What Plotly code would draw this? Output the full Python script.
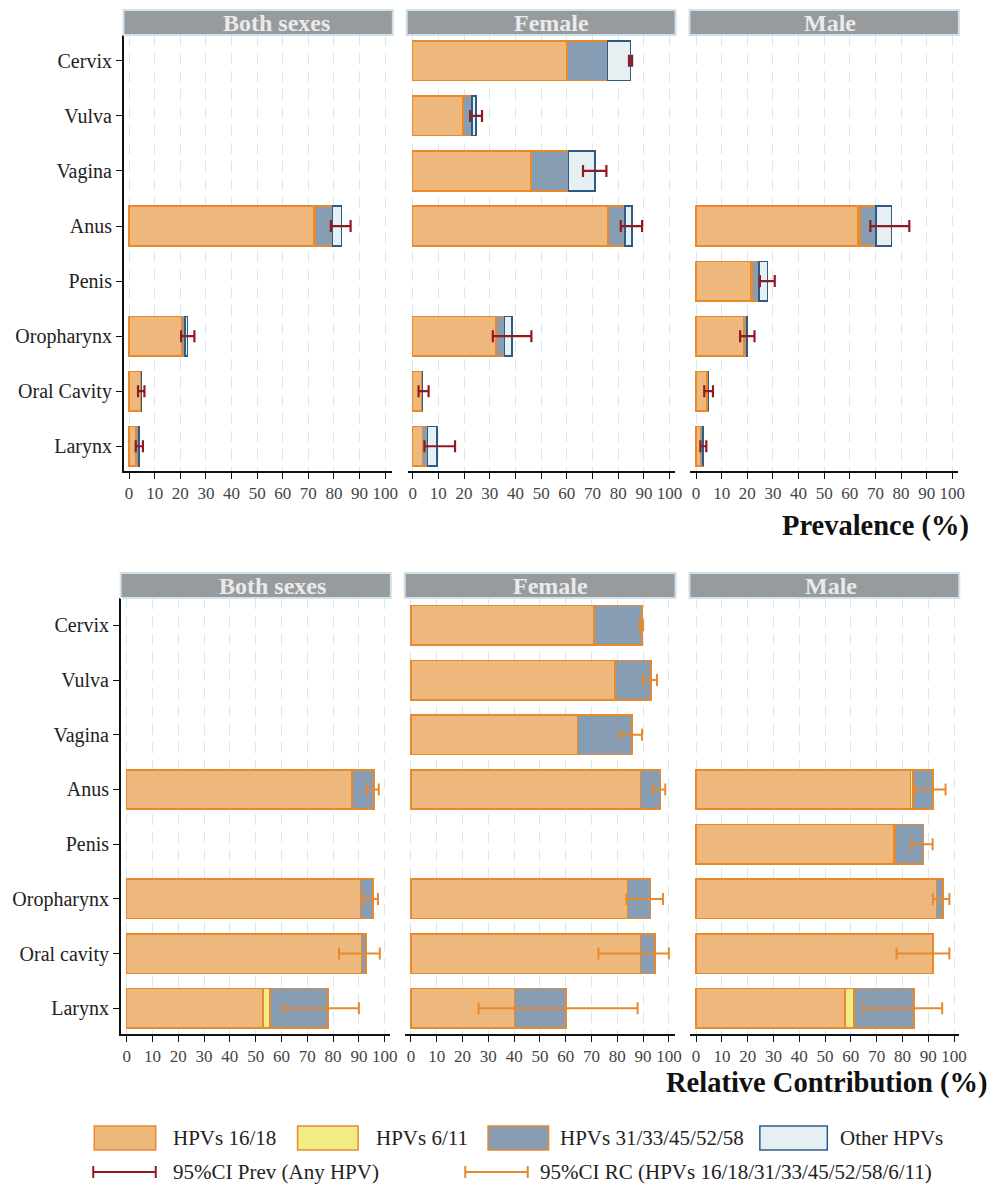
import plotly.graph_objects as go

# ---------------- data ----------------
sites_prev = ["Cervix", "Vulva", "Vagina", "Anus", "Penis", "Oropharynx", "Oral Cavity", "Larynx"]
sites_rc = ["Cervix", "Vulva", "Vagina", "Anus", "Penis", "Oropharynx", "Oral cavity", "Larynx"]
sexes = ["Both sexes", "Female", "Male"]

# Prevalence (%) segment sizes: HPV16/18, HPV6/11, HPV31/33/45/52/58, Other HPVs
prev_both_1618 = [None, None, None, 72.3, None, 20.6, 4.5, 2.5]
prev_both_611 = [None, None, None, 0.3, None, 0.2, 0.0, 0.3]
prev_both_hr = [None, None, None, 6.8, None, 1.1, 0.3, 0.9]
prev_both_oth = [None, None, None, 3.6, None, 0.9, 0.1, 0.1]
prev_both_ci_lo = [None, None, None, 78.8, None, 20.3, 3.5, 2.6]
prev_both_ci_hi = [None, None, None, 86.5, None, 25.5, 6.0, 5.4]

prev_fem_1618 = [60.1, 19.6, 45.8, 75.8, None, 32.5, 3.5, 3.9]
prev_fem_611 = [0.2, 0.2, 0.3, 0.2, None, 0.2, 0.0, 0.0]
prev_fem_hr = [15.5, 3.2, 14.6, 6.6, None, 3.0, 0.4, 1.8]
prev_fem_oth = [8.9, 1.7, 10.3, 2.8, None, 3.0, 0.0, 3.7]
prev_fem_ci_lo = [84.2, 22.4, 66.3, 81.0, None, 31.2, 2.3, 4.6]
prev_fem_ci_hi = [85.4, 27.0, 75.4, 89.3, None, 46.2, 6.2, 16.5]

prev_male_1618 = [None, None, None, 63.2, 21.5, 18.7, 4.3, 1.7]
prev_male_611 = [None, None, None, 0.7, 0.3, 0.1, 0.0, 0.0]
prev_male_hr = [None, None, None, 6.4, 2.7, 1.1, 0.5, 1.1]
prev_male_oth = [None, None, None, 6.0, 3.4, 0.1, 0.0, 0.0]
prev_male_ci_lo = [None, None, None, 68.0, 24.9, 17.2, 3.2, 1.7]
prev_male_ci_hi = [None, None, None, 83.2, 30.7, 22.8, 6.6, 4.0]

# Relative contribution (%) segment sizes: HPV16/18, HPV6/11, HPV31/33/45/52/58
rc_both_1618 = [None, None, None, 87.4, None, 90.6, 91.0, 52.9]
rc_both_611 = [None, None, None, 0.2, None, 0.0, 0.0, 2.7]
rc_both_hr = [None, None, None, 8.2, None, 4.8, 1.7, 22.4]
rc_both_ci_lo = [None, None, None, 93.2, None, 91.5, 82.3, 60.9]
rc_both_ci_hi = [None, None, None, 97.7, None, 97.4, 98.1, 90.0]

rc_fem_1618 = [71.0, 79.2, 64.6, 89.0, None, 84.0, 89.0, 40.1]
rc_fem_611 = [0.0, 0.0, 0.0, 0.0, None, 0.0, 0.0, 0.0]
rc_fem_hr = [18.5, 13.8, 21.2, 7.8, None, 8.8, 5.6, 20.0]
rc_fem_ci_lo = [88.7, 90.0, 81.0, 93.7, None, 83.6, 72.7, 26.2]
rc_fem_ci_hi = [90.0, 95.4, 89.6, 98.6, None, 97.7, 100.0, 87.9]

rc_male_1618 = [None, None, None, 83.1, 76.7, 93.1, 91.9, 57.7]
rc_male_611 = [None, None, None, 0.9, 0.5, 0.0, 0.0, 3.6]
rc_male_hr = [None, None, None, 7.9, 10.9, 2.7, 0.0, 23.2]
rc_male_ci_lo = [None, None, None, 84.7, 83.5, 91.8, 77.7, 64.9]
rc_male_ci_hi = [None, None, None, 96.7, 91.7, 98.2, 98.2, 95.4]

x_ticks = [0, 10, 20, 30, 40, 50, 60, 70, 80, 90, 100]

# ---------------- styles ----------------
W, H = 998, 1184
FONT = "Liberation Serif, Times New Roman, serif"
C_1618, C_611, C_HR, C_OTH = "#EEB87C", "#F2EC84", "#879DB3", "#E6F0F3"
E_ORANGE, E_BLUE = "#E8892E", "#2E5B86"
C_CI_PREV, C_CI_RC = "#8E1B22", "#E8892E"


def px_x(v):
    return v / W


def px_y(v):
    return 1 - v / H


panels = [
    dict(dom=(124.7, 395.0), rng=(-2.1, 102.6), ydom=(35, 471), yr=(7.45, -0.47)),
    dict(dom=(411.0, 680.7), rng=(-1.93, 102.2), ydom=(35, 471), yr=(7.45, -0.47)),
    dict(dom=(696.0, 966.0), rng=(-2.2, 102.3), ydom=(35, 471), yr=(7.45, -0.47)),
    dict(dom=(121.7, 393.0), rng=(-2.3, 102.0), ydom=(598, 1034), yr=(7.47, -0.5)),
    dict(dom=(408.3, 680.0), rng=(-2.3, 102.2), ydom=(598, 1034), yr=(7.47, -0.5)),
    dict(dom=(696.0, 966.7), rng=(-2.2, 101.9), ydom=(598, 1034), yr=(7.47, -0.5)),
]

prev_data = [
    (prev_both_1618, prev_both_611, prev_both_hr, prev_both_oth, prev_both_ci_lo, prev_both_ci_hi),
    (prev_fem_1618, prev_fem_611, prev_fem_hr, prev_fem_oth, prev_fem_ci_lo, prev_fem_ci_hi),
    (prev_male_1618, prev_male_611, prev_male_hr, prev_male_oth, prev_male_ci_lo, prev_male_ci_hi),
]
rc_data = [
    (rc_both_1618, rc_both_611, rc_both_hr, None, rc_both_ci_lo, rc_both_ci_hi),
    (rc_fem_1618, rc_fem_611, rc_fem_hr, None, rc_fem_ci_lo, rc_fem_ci_hi),
    (rc_male_1618, rc_male_611, rc_male_hr, None, rc_male_ci_lo, rc_male_ci_hi),
]

fig = go.Figure()
shapes = []
annotations = []

for i, p in enumerate(panels):
    n = i + 1
    xa = "x" if n == 1 else f"x{n}"
    ya = "y" if n == 1 else f"y{n}"
    is_prev = i < 3
    cats = sites_prev if is_prev else sites_rc
    data = prev_data[i % 3] if is_prev else rc_data[i % 3]
    s1618, s611, shr, soth, lo, hi = data

    series = [(s1618, C_1618, E_ORANGE), (s611, C_611, E_ORANGE), (shr, C_HR, E_ORANGE)]
    if soth is not None:
        series.append((soth, C_OTH, E_BLUE))
    for vals, fill, edge in series:
        fig.add_trace(go.Bar(
            y=cats, x=vals, orientation="h", xaxis=xa, yaxis=ya,
            marker=dict(color=fill, line=dict(color=edge, width=1.5)),
            showlegend=False, hoverinfo="skip",
        ))
    mid = [None if a is None else (a + b) / 2 for a, b in zip(lo, hi)]
    half = [None if a is None else (b - a) / 2 for a, b in zip(lo, hi)]
    ccol = C_CI_PREV if is_prev else C_CI_RC
    fig.add_trace(go.Scatter(
        y=cats, x=mid, mode="markers", xaxis=xa, yaxis=ya,
        marker=dict(size=1, color="rgba(0,0,0,0)"),
        error_x=dict(type="data", array=half, symmetric=True, color=ccol,
                     thickness=2.2 if is_prev else 2, width=6),
        showlegend=False, hoverinfo="skip",
    ))

    first_col = (i % 3 == 0)
    key_x = "xaxis" if n == 1 else f"xaxis{n}"
    key_y = "yaxis" if n == 1 else f"yaxis{n}"
    fig.update_layout(**{
        key_x: dict(
            domain=[px_x(p["dom"][0]), px_x(p["dom"][1])], range=list(p["rng"]),
            anchor=ya, tickmode="array", tickvals=x_ticks,
            ticktext=[str(t) for t in x_ticks],
            showline=True, linecolor="#111", linewidth=1.5,
            ticks="outside", ticklen=6, tickwidth=1.3, tickcolor="#111",
            tickfont=dict(family=FONT, size=17, color="#444"),
            showgrid=True, gridcolor="#D8E8EC", gridwidth=1, griddash="11px,7px",
            zeroline=False, fixedrange=True,
        ),
        key_y: dict(
            domain=[px_y(p["ydom"][1]), px_y(p["ydom"][0])], range=list(p["yr"]),
            anchor=xa, type="category", categoryorder="array", categoryarray=cats,
            showline=first_col, linecolor="#111", linewidth=1.5,
            ticks="outside" if first_col else "", ticklen=6, tickwidth=1.3, tickcolor="#111",
            showticklabels=first_col,
            tickfont=dict(family=FONT, size=20, color="#222"),
            showgrid=False, zeroline=False, fixedrange=True,
        ),
    })

# header strips
headers = [
    ((124.5, 396.0), (10, 35), 18), ((410.0, 681.0), (10, 35), 10), ((695.0, 966.7), (10, 35), 6),
    ((121.7, 394.0), (573, 598), 17), ((408.0, 681.0), (573, 598), 10), ((695.0, 967.0), (573, 598), 7),
]
for j, ((x0, x1), (y0, y1), off) in enumerate(headers):
    shapes.append(dict(type="rect", xref="paper", yref="paper",
                       x0=px_x(x0), x1=px_x(x1), y0=px_y(y1), y1=px_y(y0),
                       fillcolor="#989B9E", line=dict(color="#CFE1E9", width=2)))
    annotations.append(dict(text=f"<b>{sexes[j % 3]}</b>", xref="paper", yref="paper",
                            x=px_x((x0 + x1) / 2 + off), y=px_y((y0 + y1) / 2 + 0.5),
                            showarrow=False, xanchor="center", yanchor="middle",
                            font=dict(family=FONT, size=24, color="#EAEAEA")))

# axis titles
annotations.append(dict(text="<b>Prevalence (%)</b>", xref="paper", yref="paper",
                        x=px_x(979), y=px_y(526), xanchor="right", yanchor="middle",
                        showarrow=False, font=dict(family=FONT, size=28.5, color="#111")))
annotations.append(dict(text="<b>Relative Contribution (%)</b>", xref="paper", yref="paper",
                        x=px_x(997), y=px_y(1083), xanchor="right", yanchor="middle",
                        showarrow=False, font=dict(family=FONT, size=28.5, color="#111")))

# legend (custom)
legend_boxes = [
    ((95, 157), C_1618, E_ORANGE, 172, "HPVs 16/18"),
    ((300, 361), C_611, E_ORANGE, 377, "HPVs 6/11"),
    ((492, 553), C_HR, E_ORANGE, 563, "HPVs 31/33/45/52/58"),
    ((766, 834), C_OTH, E_BLUE, 845, "Other HPVs"),
]
for (x0, x1), fill, edge, tx, label in legend_boxes:
    shapes.append(dict(type="rect", xref="paper", yref="paper",
                       x0=px_x(x0), x1=px_x(x1), y0=px_y(1150), y1=px_y(1126),
                       fillcolor=fill, line=dict(color=edge, width=1.5)))
    annotations.append(dict(text=label, xref="paper", yref="paper", x=px_x(tx), y=px_y(1138),
                            xanchor="left", yanchor="middle", showarrow=False,
                            font=dict(family=FONT, size=21, color="#222")))

legend_lines = [
    ((94, 157), C_CI_PREV, 172, "95%CI Prev (Any HPV)"),
    ((469, 532), C_CI_RC, 542, "95%CI RC (HPVs 16/18/31/33/45/52/58/6/11)"),
]
for (x0, x1), col, tx, label in legend_lines:
    shapes.append(dict(type="line", xref="paper", yref="paper",
                       x0=px_x(x0), x1=px_x(x1), y0=px_y(1172), y1=px_y(1172),
                       line=dict(color=col, width=2)))
    for xc in (x0, x1):
        shapes.append(dict(type="line", xref="paper", yref="paper",
                           x0=px_x(xc), x1=px_x(xc), y0=px_y(1166), y1=px_y(1178),
                           line=dict(color=col, width=2)))
    annotations.append(dict(text=label, xref="paper", yref="paper", x=px_x(tx), y=px_y(1172),
                            xanchor="left", yanchor="middle", showarrow=False,
                            font=dict(family=FONT, size=21, color="#222")))

fig.update_layout(
    width=W, height=H, margin=dict(l=0, r=0, t=0, b=0),
    paper_bgcolor="white", plot_bgcolor="white",
    barmode="stack", bargap=0.28, showlegend=False,
    shapes=shapes, annotations=annotations,
    font=dict(family=FONT),
)

fig.write_html("out.html")
